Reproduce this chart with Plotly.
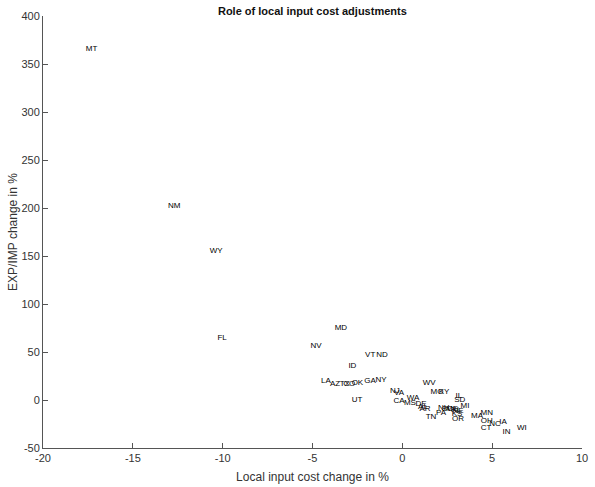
import plotly.graph_objects as go

states = ["MT","NM","WY","FL","MD","NV","VT","ND","ID","LA","AZ","TX","CO","OK","GA","NY",
          "UT","NJ","VA","CA","WA","MS","DE","AL","AR","TN","PA","WV","MO","KY","IL","SD",
          "MI","NH","SC","ME","RI","NE","KS","OR","MA","MN","OH","CT","NC","IA","IN","WI"]
cost_change = [-17.3,-12.7,-10.36,-10.03,-3.42,-4.8,-1.79,-1.13,-2.78,-4.25,-3.74,-3.2,-2.95,-2.5,-1.8,-1.19,
               -2.52,-0.41,-0.18,-0.18,0.59,0.42,1.04,1.15,1.26,1.6,2.15,1.49,1.93,2.32,3.15,3.2,
               3.49,2.3,2.5,2.77,2.93,3.1,3.05,3.1,4.16,4.7,4.7,4.66,5.16,5.6,5.8,6.65]
expimp_change = [365.6,202,155,64.6,75,56,46.5,46.5,35.4,19.8,16.2,16.2,16.2,17.2,20,21,
                 0,9.4,7.3,-1,2,-3,-4,-7.3,-9.4,-17.7,-13.5,17.7,8.3,8.3,4.2,0,
                 -6.3,-8.3,-9.4,-9.4,-10.4,-11.5,-14.6,-19.8,-16.7,-13.5,-22,-29,-25,-23,-33,-29]
x_ticks = [-20, -15, -10, -5, 0, 5, 10]
y_ticks = [-50, 0, 50, 100, 150, 200, 250, 300, 350, 400]

FONT = "Liberation Sans, Arial, sans-serif"

fig = go.Figure(go.Scatter(
    x=cost_change, y=expimp_change, mode="text", text=states,
    textposition="middle center",
    textfont=dict(family=FONT, size=8, color="#000000"),
    hoverinfo="x+y+text", showlegend=False))

axis_common = dict(showgrid=False, zeroline=False, showline=True, linecolor="#555555",
                   linewidth=1, ticks="inside", ticklen=5, tickcolor="#555555",
                   tickfont=dict(family=FONT, size=11, color="#333333"),
                   mirror=False, automargin=False)

fig.update_layout(
    width=595, height=487,
    margin=dict(l=43, r=13, t=16, b=39),
    paper_bgcolor="white", plot_bgcolor="white",
    title=dict(text="<b>Role of local input cost adjustments</b>", x=0.525, xanchor="center",
               y=0.978, yanchor="middle",
               font=dict(family=FONT, size=11, color="#111111")),
    xaxis=dict(range=[-20, 10], tickvals=x_ticks, ticktext=[str(v) for v in x_ticks],
               title=dict(text="Local input cost change in %", standoff=9,
                          font=dict(family=FONT, size=12, color="#333333")),
               **axis_common),
    yaxis=dict(range=[-50, 400], tickvals=y_ticks, ticktext=[str(v) for v in y_ticks],
               title=dict(text="EXP/IMP change in %", standoff=1,
                          font=dict(family=FONT, size=12, color="#333333")),
               **axis_common),
)

fig.write_html("out.html")
